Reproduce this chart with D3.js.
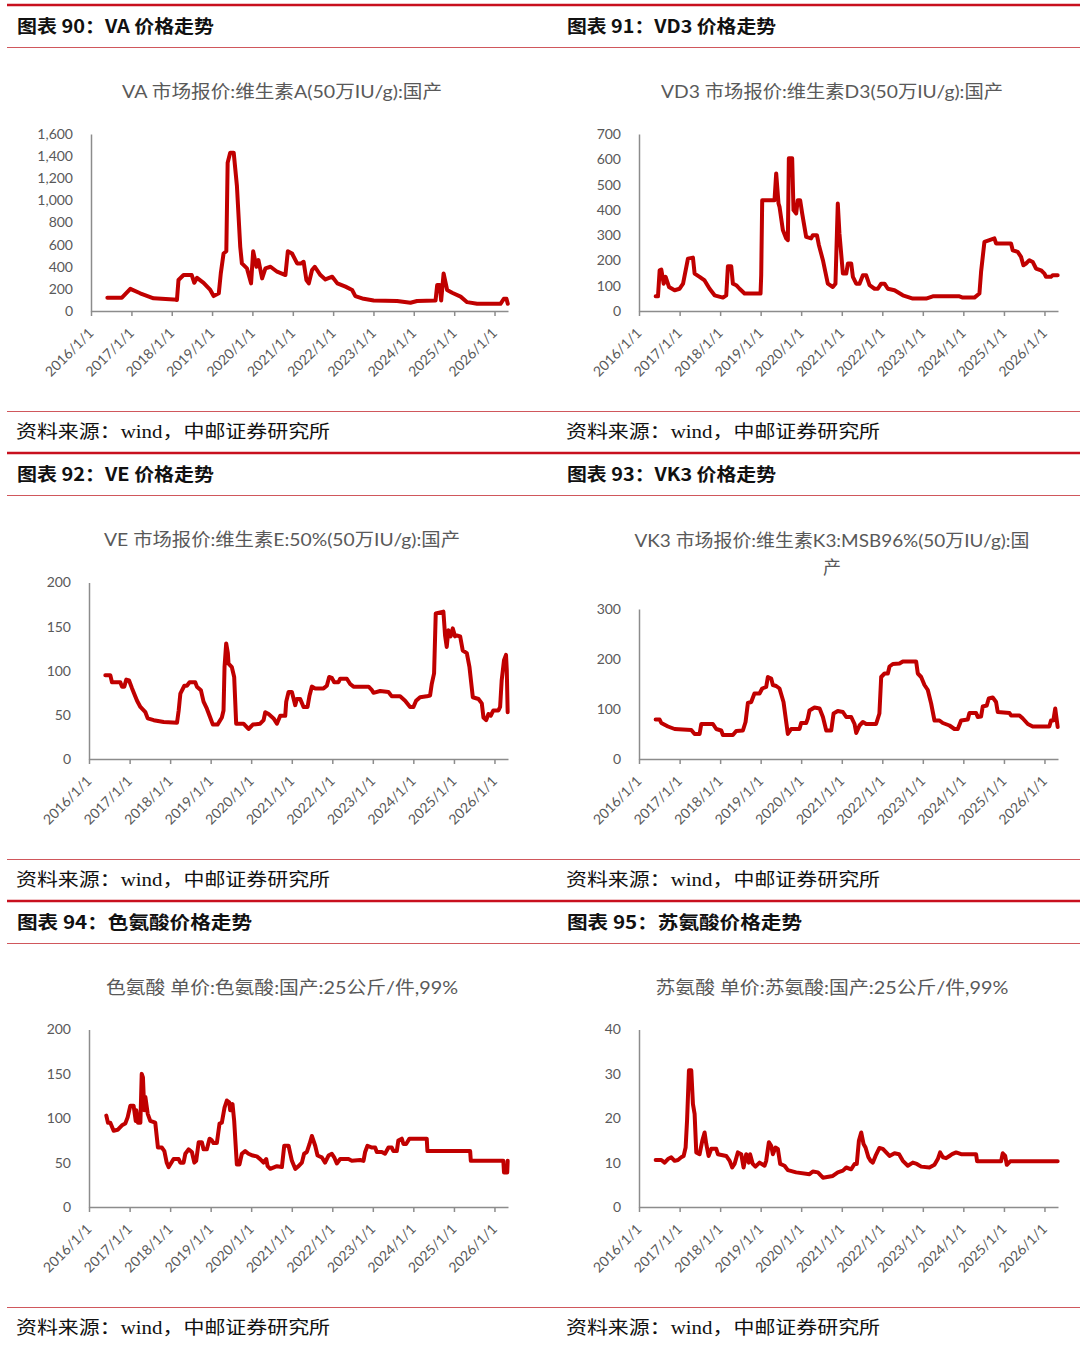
<!DOCTYPE html>
<html>
<head>
<meta charset="utf-8">
<script src="https://cdn.jsdelivr.net/npm/d3@7"></script>
<style>
  body { margin: 0; background: #fff; }
  svg { display: block; }
</style>
</head>
<body>
<svg id="page" width="1080" height="1359"></svg>
<script>
// ---------- data ----------
const yearTicks = ["2016/1/1", "2017/1/1", "2018/1/1", "2019/1/1", "2020/1/1", "2021/1/1",
                   "2022/1/1", "2023/1/1", "2024/1/1", "2025/1/1", "2026/1/1"];

// VA 维生素A
const vaDates = ["2016-05-28","2016-10-07","2016-12-22","2017-03-21","2017-07-20","2018-01-19","2018-02-17","2018-03-03","2018-04-18","2018-07-01",
                 "2018-07-24","2018-08-18","2018-10-16","2018-12-16","2019-01-15","2019-03-03","2019-03-21","2019-04-15","2019-05-10","2019-05-22",
                 "2019-06-14","2019-07-16","2019-08-14","2019-09-13","2019-09-28","2019-11-13","2019-12-20","2020-01-08","2020-02-07","2020-02-25",
                 "2020-03-29","2020-04-28","2020-06-13","2020-08-12","2020-10-26","2020-11-17","2020-12-25","2021-02-09","2021-03-17","2021-04-09",
                 "2021-05-04","2021-05-26","2021-06-24","2021-07-19","2021-09-08","2021-10-23","2021-12-24","2022-02-08","2022-04-23","2022-06-22",
                 "2022-07-21","2022-10-04","2023-01-03","2023-08-03","2023-12-02","2024-01-31","2024-07-16","2024-07-31","2024-08-23","2024-09-05",
                 "2024-09-27","2024-10-29","2024-12-13","2025-02-28","2025-04-28","2025-07-27","2026-02-24","2026-03-26","2026-04-19","2026-05-01"];
const vaValues = [120,120,200,160,115,105,100,280,325,325,
                  255,300,255,190,135,160,340,520,540,1340,
                  1430,1430,1130,580,430,385,250,540,400,460,
                  295,385,400,355,325,540,520,430,430,445,
                  280,250,370,400,325,285,310,250,220,190,
                  135,110,95,90,75,90,95,235,235,95,
                  340,190,165,130,80,65,65,110,110,65];

// VD3 维生素D3
const vd3Dates = ["2016-05-30","2016-06-20","2016-07-05","2016-07-20","2016-08-10","2016-08-28","2016-09-27","2016-11-17","2017-01-01","2017-02-01",
                  "2017-03-17","2017-05-01","2017-05-16","2017-06-30","2017-08-14","2017-09-28","2017-11-12","2018-01-26","2018-02-25","2018-03-12",
                  "2018-04-11","2018-04-26","2018-05-26","2018-06-25","2018-08-09","2018-12-22","2018-12-31","2019-01-06","2019-01-15","2019-05-06",
                  "2019-05-21","2019-06-11","2019-06-20","2019-07-20","2019-08-19","2019-09-03","2019-09-12","2019-10-12","2019-10-24","2019-11-17",
                  "2019-12-01","2019-12-23","2020-01-10","2020-02-15","2020-03-31","2020-04-15","2020-05-22","2020-06-09","2020-07-15","2020-08-28",
                  "2020-10-12","2020-11-05","2020-11-26","2020-12-11","2021-01-11","2021-02-10","2021-02-25","2021-03-27","2021-04-11","2021-05-11",
                  "2021-06-10","2021-07-10","2021-08-09","2021-09-08","2021-10-23","2021-11-22","2021-12-22","2022-01-21","2022-02-20","2022-04-21",
                  "2022-07-05","2022-10-03","2023-01-31","2023-04-01","2023-11-27","2023-12-27","2024-04-10","2024-05-25","2024-06-09","2024-07-09",
                  "2024-08-23","2024-10-07","2024-10-22","2025-03-06","2025-03-21","2025-05-05","2025-06-04","2025-06-25","2025-07-19","2025-08-18",
                  "2025-09-17","2025-10-17","2025-12-01","2026-01-01","2026-01-15","2026-03-01","2026-03-16","2026-04-30"];
const vd3Values = [58,58,161,164,108,135,95,82,88,108,
                   207,211,148,135,121,88,62,53,62,177,
                   177,108,102,88,69,69,69,141,438,438,
                   544,425,412,320,287,280,604,604,399,386,
                   438,438,386,293,287,300,300,260,201,108,
                   95,108,425,306,148,148,188,188,135,108,
                   108,141,141,102,88,88,108,108,88,82,
                   62,49,49,58,58,53,53,69,155,273,
                   280,287,267,267,240,234,214,181,188,201,
                   194,168,161,148,135,135,141,141];

// VE 维生素E
const veDates = ["2016-05-27","2016-07-11","2016-07-26","2016-10-09","2016-10-24","2016-11-14","2016-12-02","2016-12-27","2017-01-23","2017-03-09",
                 "2017-04-08","2017-05-23","2017-06-13","2017-08-06","2017-11-04","2018-03-04","2018-03-19","2018-04-03","2018-05-09","2018-06-01",
                 "2018-06-25","2018-08-15","2018-08-30","2018-10-05","2018-10-29","2018-11-28","2018-12-28","2019-01-21","2019-03-04","2019-04-12",
                 "2019-04-27","2019-05-06","2019-05-21","2019-06-05","2019-06-11","2019-07-11","2019-08-01","2019-08-19","2019-10-24","2019-12-08",
                 "2020-01-16","2020-03-22","2020-04-22","2020-05-07","2020-06-06","2020-07-21","2020-08-20","2020-09-19","2020-11-03","2020-11-12",
                 "2020-12-03","2021-01-02","2021-02-01","2021-02-16","2021-03-18","2021-04-17","2021-05-23","2021-06-10","2021-07-01","2021-07-31",
                 "2021-10-14","2021-11-13","2021-12-04","2021-12-28","2022-01-18","2022-02-26","2022-03-13","2022-05-12","2022-06-11","2022-07-11",
                 "2022-11-24","2022-12-24","2023-01-07","2023-03-08","2023-05-22","2023-06-21","2023-09-04","2023-10-19","2023-12-03","2024-01-02",
                 "2024-01-26","2024-03-02","2024-05-01","2024-05-31","2024-06-15","2024-07-06","2024-07-21","2024-09-28","2024-10-13","2024-10-28",
                 "2024-11-12","2024-12-03","2024-12-21","2025-01-11","2025-01-27","2025-02-26","2025-03-21","2025-04-27","2025-05-21","2025-06-20",
                 "2025-08-10","2025-09-09","2025-09-24","2025-10-18","2025-11-08","2025-11-28","2025-12-22","2026-02-06","2026-02-21","2026-03-07",
                 "2026-03-28","2026-04-15","2026-04-22","2026-04-30"];
const veValues = [95,95,87,87,82,82,90,89,80,66,
                  59,53,46,44,42,41,55,74,83,83,
                  87,87,82,78,65,57,47,39,39,47,
                  55,104,131,120,108,104,93,40,40,34,
                  39,40,44,53,51,46,40,49,49,65,
                  76,76,61,68,68,59,59,72,82,80,
                  80,83,93,92,87,87,91,91,85,82,
                  82,78,75,77,76,71,71,66,59,59,
                  66,70,71,72,85,97,165,167,140,127,
                  146,139,148,139,140,139,123,120,104,70,
                  68,63,47,44,51,49,55,55,59,89,
                  112,118,101,53];

// VK3 维生素K3
const vk3Dates = ["2016-05-30","2016-07-05","2016-07-20","2016-09-18","2016-11-17","2017-04-16","2017-05-16","2017-06-30","2017-07-15","2017-10-28",
                  "2017-11-27","2018-01-11","2018-01-26","2018-04-26","2018-05-26","2018-07-25","2018-08-18","2018-09-08","2018-10-08","2018-11-06",
                  "2018-12-22","2019-01-15","2019-02-20","2019-03-07","2019-04-06","2019-04-21","2019-05-21","2019-06-20","2019-07-26","2019-09-03",
                  "2019-10-03","2019-12-17","2020-01-01","2020-02-15","2020-03-01","2020-03-16","2020-04-30","2020-06-15","2020-07-15","2020-08-14",
                  "2020-09-28","2020-10-19","2020-11-26","2021-01-11","2021-02-10","2021-03-27","2021-04-26","2021-05-11","2021-06-10","2021-07-10",
                  "2021-08-09","2021-11-06","2021-12-06","2021-12-22","2022-01-21","2022-02-20","2022-03-07","2022-04-06","2022-06-05","2022-07-05",
                  "2022-11-02","2022-11-17","2022-12-17","2023-01-16","2023-02-15","2023-03-17","2023-04-16","2023-05-31","2023-06-30","2023-08-29",
                  "2023-10-13","2023-11-12","2023-12-12","2024-02-10","2024-02-25","2024-04-25","2024-05-10","2024-06-09","2024-06-24","2024-07-30",
                  "2024-08-17","2024-09-22","2024-10-22","2024-11-06","2025-02-20","2025-03-06","2025-05-21","2025-06-20","2025-08-04","2025-09-17",
                  "2026-02-14","2026-03-01","2026-03-22","2026-04-08","2026-04-30"];
const vk3Values = [79,79,72,65,60,58,50,50,70,70,
                   60,57,48,48,56,57,74,112,114,131,
                   131,141,144,164,161,148,146,141,114,50,
                   60,60,72,72,81,97,103,101,84,57,
                   57,91,96,94,84,84,70,52,67,74,
                   70,70,91,164,171,171,185,190,191,195,
                   195,171,164,148,138,111,77,77,72,67,
                   60,60,77,79,92,92,84,85,105,107,
                   121,123,114,94,92,87,87,81,70,65,
                   65,77,77,101,64];

// 色氨酸
const trpDates = ["2016-06-05","2016-06-20","2016-07-11","2016-08-10","2016-09-15","2016-10-24","2016-11-23","2016-12-14","2017-01-07","2017-02-06",
                  "2017-02-25","2017-03-02","2017-03-17","2017-04-08","2017-04-20","2017-05-01","2017-05-13","2017-05-23","2017-06-13","2017-07-06",
                  "2017-08-20","2017-09-13","2017-10-19","2017-11-10","2017-12-01","2017-12-19","2018-02-01","2018-03-19","2018-04-03","2018-05-02",
                  "2018-05-18","2018-06-16","2018-07-16","2018-08-07","2018-08-24","2018-09-15","2018-10-14","2018-10-29","2018-11-28","2018-12-22",
                  "2019-01-12","2019-01-27","2019-02-26","2019-03-22","2019-04-12","2019-05-06","2019-05-27","2019-06-17","2019-06-26","2019-07-17",
                  "2019-08-01","2019-08-25","2019-09-18","2019-10-09","2019-11-08","2019-12-08","2020-01-16","2020-02-21","2020-03-22","2020-04-22",
                  "2020-05-16","2020-05-28","2020-06-21","2020-08-20","2020-10-04","2020-10-25","2020-12-03","2021-01-02","2021-02-01","2021-03-03",
                  "2021-04-02","2021-04-22","2021-05-17","2021-06-10","2021-07-01","2021-07-31","2021-08-21","2021-09-28","2021-10-28","2021-11-28",
                  "2021-12-28","2022-01-18","2022-02-11","2022-03-13","2022-05-27","2022-06-26","2022-09-09","2022-10-09","2022-10-24","2022-11-14",
                  "2022-12-24","2023-01-22","2023-02-06","2023-03-23","2023-04-21","2023-05-22","2023-06-21","2023-07-06","2023-08-05","2023-08-19",
                  "2023-09-19","2023-10-04","2023-10-28","2023-11-27","2024-05-01","2024-05-07","2025-05-27","2025-06-02","2026-03-22","2026-03-28",
                  "2026-04-26","2026-04-30"];
const trpValues = [103,95,95,86,87,92,94,101,114,114,
                   97,109,95,95,150,146,109,124,105,97,
                   95,67,67,63,50,45,54,54,50,50,
                   60,65,62,50,52,73,73,65,65,77,
                   75,72,72,94,95,112,120,118,109,116,
                   97,48,48,60,63,60,58,57,54,50,
                   54,46,43,46,45,69,69,52,43,46,
                   50,60,62,71,80,69,58,56,50,58,
                   60,56,49,54,54,52,53,52,62,69,
                   67,67,62,62,60,67,67,63,63,75,
                   77,71,71,77,77,63,63,52,52,39,
                   39,52];

// 苏氨酸
const thrDates = ["2016-05-30","2016-07-20","2016-08-19","2016-09-18","2016-10-18","2016-11-17","2016-12-17","2017-01-16","2017-02-06","2017-02-24",
                  "2017-03-09","2017-03-26","2017-04-16","2017-05-01","2017-05-16","2017-05-31","2017-06-30","2017-07-24","2017-08-14","2017-08-29",
                  "2017-09-19","2017-10-13","2017-11-27","2017-12-12","2018-02-25","2018-03-28","2018-04-20","2018-05-11","2018-06-10","2018-07-10",
                  "2018-07-31","2018-08-24","2018-09-16","2018-09-28","2018-10-22","2018-11-15","2018-12-22","2019-02-05","2019-02-20","2019-03-16",
                  "2019-04-06","2019-04-21","2019-05-15","2019-06-05","2019-06-26","2019-08-04","2019-09-03","2019-11-17","2020-03-16","2020-04-15",
                  "2020-05-31","2020-07-15","2020-10-12","2020-11-26","2021-01-11","2021-02-10","2021-03-27","2021-04-26","2021-05-16","2021-06-04",
                  "2021-06-25","2021-07-16","2021-08-03","2021-08-29","2021-09-18","2021-10-08","2021-11-01","2021-12-06","2022-01-06","2022-02-05",
                  "2022-03-07","2022-04-21","2022-06-01","2022-07-05","2022-08-19","2022-10-03","2022-11-08","2022-12-17","2023-03-02","2023-04-16",
                  "2023-05-16","2023-06-06","2023-07-01","2023-07-30","2023-08-29","2023-09-22","2023-10-28","2023-12-12","2024-04-25","2024-05-04",
                  "2024-12-06","2024-12-21","2025-01-12","2025-01-27","2025-02-26","2026-04-30"];
const thrValues = [10.6,10.6,10.0,10.8,11.2,10.4,10.6,11.2,11.5,13.4,
                   19.5,30.8,30.8,23.2,21.0,12.3,11.9,14.9,16.8,14.2,
                   11.5,13.1,13.1,11.9,11.5,10.4,8.9,9.7,12.3,11.9,
                   8.9,11.9,10.0,11.9,9.7,9.1,10.0,9.3,10.4,14.6,
                   13.8,11.9,13.4,13.1,9.7,9.3,8.3,7.8,7.4,8.0,
                   7.8,6.6,7.0,7.8,8.2,8.9,8.5,9.7,9.7,14.9,
                   16.8,14.2,13.4,11.2,10.4,10.0,11.5,13.3,13.1,12.3,
                   11.5,12.1,11.9,10.4,9.3,10.0,9.7,9.1,8.9,9.5,
                   10.8,12.3,11.2,11.0,11.5,11.9,12.3,11.9,11.9,10.3,
                   10.3,12.1,11.5,9.5,10.3,10.3];

// y tick values per chart
const vaTicks = [0, 200, 400, 600, 800, 1000, 1200, 1400, 1600];
const vd3Ticks = [0, 100, 200, 300, 400, 500, 600, 700];
const veTicks = [0, 50, 100, 150, 200];
const vk3Ticks = [0, 100, 200, 300];
const trpTicks = [0, 50, 100, 150, 200];
const thrTicks = [0, 10, 20, 30, 40];

// ---------- layout ----------
const svg = d3.select("#page");
const parseDate = d3.timeParse("%Y-%m-%d");
const parseTick = d3.timeParse("%Y/%m/%d");
const xStart = parseDate("2016-01-01");
const xEnd = parseDate("2026-05-03");

const red = "#c00000";
const gray = "#595959";
const axisGray = "#8c8c8c";
const cjk = "'Noto Sans CJK SC', sans-serif";
const latin = "Lato, 'Noto Sans CJK SC', sans-serif";

const rowH = 448;   // distance between the three rows of panels
const colW = 550;   // distance between the two columns

const panels = [
  { row: 0, col: 0, header: "图表 90：VA 价格走势", headerW: 197,
    title: ["VA 市场报价:维生素A(50万IU/g):国产"], titleW: [320], titleY: [98],
    dates: vaDates, values: vaValues, ticks: vaTicks, fmt: d3.format(","), left: 91, top: 134 },
  { row: 0, col: 1, header: "图表 91：VD3 价格走势", headerW: 209,
    title: ["VD3 市场报价:维生素D3(50万IU/g):国产"], titleW: [342], titleY: [98],
    dates: vd3Dates, values: vd3Values, ticks: vd3Ticks, fmt: d3.format("d"), left: 89, top: 134 },
  { row: 1, col: 0, header: "图表 92：VE 价格走势", headerW: 197,
    title: ["VE 市场报价:维生素E:50%(50万IU/g):国产"], titleW: [356], titleY: [98],
    dates: veDates, values: veValues, ticks: veTicks, fmt: d3.format("d"), left: 89, top: 134.5 },
  { row: 1, col: 1, header: "图表 93：VK3 价格走势", headerW: 209,
    title: ["VK3 市场报价:维生素K3:MSB96%(50万IU/g):国", "产"], titleW: [395, null], titleY: [99, 126],
    dates: vk3Dates, values: vk3Values, ticks: vk3Ticks, fmt: d3.format("d"), left: 89, top: 161 },
  { row: 2, col: 0, header: "图表 94：色氨酸价格走势", headerW: 235,
    title: ["色氨酸 单价:色氨酸:国产:25公斤/件,99%"], titleW: [352], titleY: [98],
    dates: trpDates, values: trpValues, ticks: trpTicks, fmt: d3.format("d"), left: 89, top: 133.5 },
  { row: 2, col: 1, header: "图表 95：苏氨酸价格走势", headerW: 235,
    title: ["苏氨酸 单价:苏氨酸:国产:25公斤/件,99%"], titleW: [353], titleY: [98],
    dates: thrDates, values: thrValues, ticks: thrTicks, fmt: d3.format("d"), left: 89, top: 133.5 }
];

// ---------- red rules across the page ----------
[0, 1, 2].forEach(r => {
  const oy = r * rowH;
  svg.append("line").attr("x1", 7).attr("x2", 1080).attr("y1", oy + 5).attr("y2", oy + 5)
    .attr("stroke", "#c8101e").attr("stroke-width", 2.5);
  svg.append("line").attr("x1", 7).attr("x2", 1080).attr("y1", oy + 47.5).attr("y2", oy + 47.5)
    .attr("stroke", "#d0575c").attr("stroke-width", 1);
  svg.append("line").attr("x1", 7).attr("x2", 1080).attr("y1", oy + 411.5).attr("y2", oy + 411.5)
    .attr("stroke", "#d0575c").attr("stroke-width", 1);
});

// ---------- each panel ----------
panels.forEach(p => {
  const g = svg.append("g")
    .attr("transform", `translate(${p.col * colW},${p.row * rowH})`);

  // header
  g.append("text")
    .attr("x", 17).attr("y", 33)
    .attr("font-family", cjk).attr("font-weight", 700).attr("font-size", 18)
    .attr("fill", "#111")
    .attr("textLength", p.headerW).attr("lengthAdjust", "spacingAndGlyphs")
    .text(p.header);

  // source line
  const src = g.append("text")
    .attr("x", 16).attr("y", 438)
    .attr("font-size", 18).attr("fill", "#111")
    .attr("textLength", 314).attr("lengthAdjust", "spacingAndGlyphs");
  src.append("tspan").attr("font-family", cjk).text("资料来源：");
  src.append("tspan").attr("font-family", "'Liberation Serif', serif").text("wind");
  src.append("tspan").attr("font-family", cjk).text("，中邮证券研究所");

  // chart title
  p.title.forEach((t, i) => {
    const tt = g.append("text")
      .attr("x", 282).attr("y", p.titleY[i])
      .attr("text-anchor", "middle")
      .attr("font-family", latin).attr("font-size", 18)
      .attr("fill", gray)
      .text(t);
    if (p.titleW[i]) tt.attr("textLength", p.titleW[i]).attr("lengthAdjust", "spacingAndGlyphs");
  });

  // scales
  const bottom = 311;
  const right = 508;
  const x = d3.scaleTime().domain([xStart, xEnd]).range([p.left, right]);
  const y = d3.scaleLinear().domain([0, d3.max(p.ticks)]).range([bottom, p.top]);

  // y axis
  const yAxis = g.append("g")
    .attr("transform", `translate(${p.left},0)`)
    .call(d3.axisLeft(y).tickValues(p.ticks).tickFormat(p.fmt).tickSize(0).tickSizeOuter(0).tickPadding(18));
  yAxis.select(".domain").attr("stroke", axisGray).attr("stroke-width", 1.5);
  yAxis.selectAll("text")
    .attr("fill", gray).attr("font-family", latin).attr("font-size", 14);

  // x axis
  const tickDates = yearTicks.map(parseTick);
  const xAxis = g.append("g")
    .attr("transform", `translate(0,${bottom})`)
    .call(d3.axisBottom(x).tickValues(tickDates).tickFormat((d, i) => yearTicks[i])
      .tickSize(5).tickSizeOuter(0));
  xAxis.select(".domain").attr("stroke", axisGray).attr("stroke-width", 1.5);
  xAxis.selectAll(".tick line").attr("stroke", axisGray).attr("stroke-width", 1.5);
  xAxis.selectAll("text")
    .attr("y", 0).attr("dy", 0)
    .attr("transform", "translate(3,23) rotate(-45)")
    .attr("text-anchor", "end")
    .attr("fill", gray).attr("font-family", latin).attr("font-size", 14);

  // price line
  const series = d3.zip(p.dates.map(parseDate), p.values);
  const line = d3.line()
    .x(d => x(d[0]))
    .y(d => y(d[1]));
  g.append("path")
    .datum(series)
    .attr("fill", "none")
    .attr("stroke", red)
    .attr("stroke-width", 4)
    .attr("stroke-linejoin", "round")
    .attr("stroke-linecap", "round")
    .attr("d", line);
});
</script>
</body>
</html>
